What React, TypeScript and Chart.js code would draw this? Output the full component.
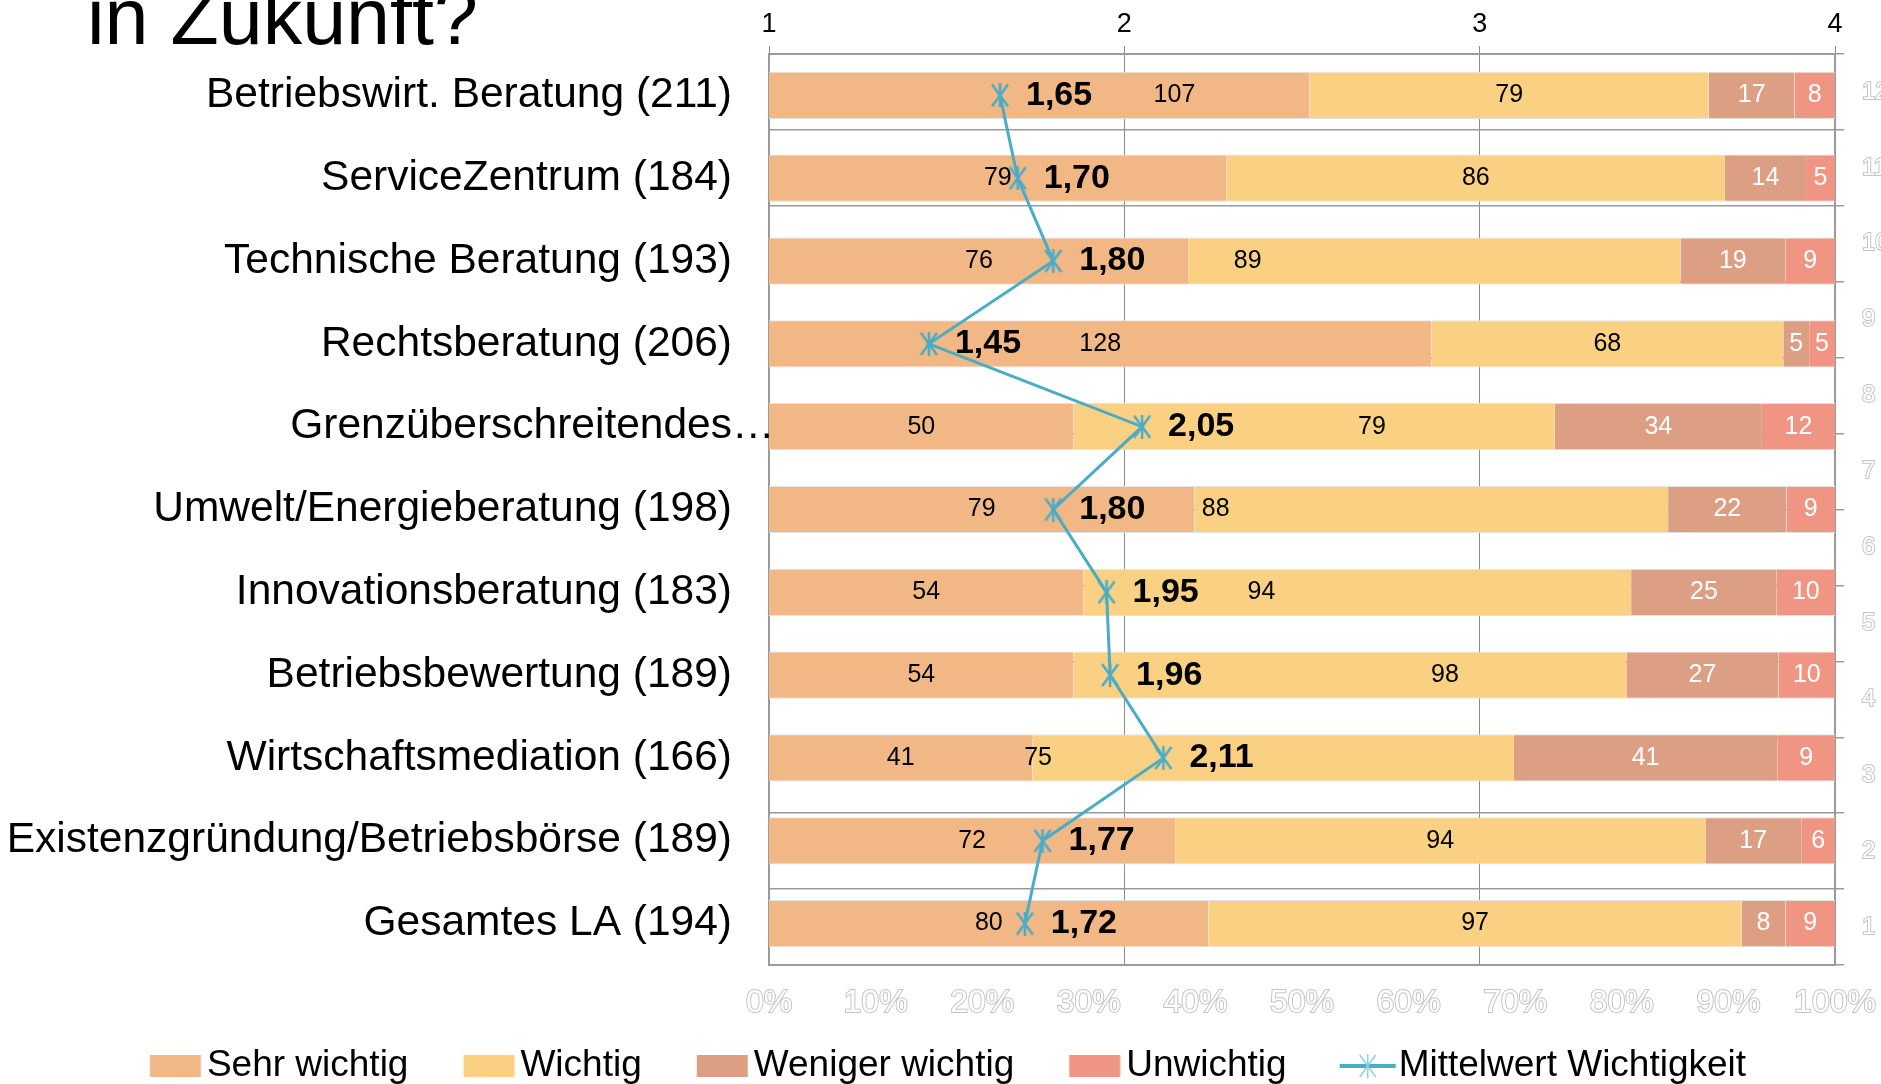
import React, { useEffect, useRef } from 'react';
import { Chart, registerables } from 'chart.js';

Chart.register(...registerables);

const FONT = "'Liberation Sans', Arial, Helvetica, sans-serif";

// ---- data ----
const categories = [
  'Betriebswirt. Beratung (211)',
  'ServiceZentrum (184)',
  'Technische Beratung (193)',
  'Rechtsberatung (206)',
  'Grenzüberschreitendes…',
  'Umwelt/Energieberatung (198)',
  'Innovationsberatung (183)',
  'Betriebsbewertung (189)',
  'Wirtschaftsmediation (166)',
  'Existenzgründung/Betriebsbörse (189)',
  'Gesamtes LA (194)',
];
const sehrWichtig = [107, 79, 76, 128, 50, 79, 54, 54, 41, 72, 80];
const wichtig = [79, 86, 89, 68, 79, 88, 94, 98, 75, 94, 97];
const wenigerWichtig = [17, 14, 19, 5, 34, 22, 25, 27, 41, 17, 8];
const unwichtig = [8, 5, 9, 5, 12, 9, 10, 10, 9, 6, 9];
const mittelwert = [1.65, 1.7, 1.8, 1.45, 2.05, 1.8, 1.95, 1.96, 2.11, 1.77, 1.72];
const seriesNames = ['Sehr wichtig', 'Wichtig', 'Weniger wichtig', 'Unwichtig'];
const lineName = 'Mittelwert Wichtigkeit';
const titleText = 'in Zukunft?';
const ELLIPSIS = '…';

// where inside its segment each count label sits (0 = start, 1 = end)
const anchorSehr = [0.75, 0.5, 0.5, 0.5, 0.5, 0.5, 0.5, 0.5, 0.5, 0.5, 0.5];
const anchorWichtig = [0.5, 0.5, 0.12, 0.5, 0.62, 0.045, 0.325, 0.672, 0.012, 0.5, 0.5];

const colors = ['#F1B785', '#FAD182', '#DC9F83', '#F09583'];
const lineColor = '#4BACC6';

const counts = [sehrWichtig, wichtig, wenigerWichtig, unwichtig];
const totals = categories.map((_, i) => counts.reduce((s, arr) => s + arr[i], 0));
const toPct = (arr: number[]) => arr.map((v, i) => (v / totals[i]) * 100);

const CAT_FONT_SIZE = 42.5;
const CAT_PAD = 37;

function makeMarker(w: number, h: number, color: string, lw: number) {
  const c = document.createElement('canvas');
  c.width = w;
  c.height = h;
  const g = c.getContext('2d')!;
  g.strokeStyle = color;
  g.lineWidth = lw;
  g.beginPath();
  g.moveTo(2, 1);
  g.lineTo(w - 2, h - 1);
  g.moveTo(w - 2, 1);
  g.lineTo(2, h - 1);
  g.moveTo(w / 2, 0);
  g.lineTo(w / 2, h);
  g.stroke();
  return c;
}

// legend swatches: a transparent lead-in on the left makes the gap between items
const LEG_W = 125;
const LEG_H = 24;
function makeLegendBox(color: string) {
  const c = document.createElement('canvas');
  c.width = LEG_W;
  c.height = LEG_H;
  const g = c.getContext('2d')!;
  g.fillStyle = color;
  g.fillRect(70.75, 1, 51, 22);
  return c;
}

function makeLegendLine(color: string) {
  const c = document.createElement('canvas');
  c.width = LEG_W;
  c.height = LEG_H;
  const g = c.getContext('2d')!;
  const x0 = 68.75;
  const x1 = 124.75;
  g.fillStyle = color;
  g.fillRect(x0, LEG_H / 2 - 2, x1 - x0, 4);
  g.strokeStyle = '#8ccfe0';
  g.lineWidth = 1.5;
  const cx = (x0 + x1) / 2;
  g.beginPath();
  g.moveTo(cx - 8, 1);
  g.lineTo(cx + 8, LEG_H - 1);
  g.moveTo(cx + 8, 1);
  g.lineTo(cx - 8, LEG_H - 1);
  g.moveTo(cx, 0);
  g.lineTo(cx, LEG_H);
  g.stroke();
  return c;
}

const zeroPad = (s: any) => {
  s.paddingLeft = 0;
  s.paddingRight = 0;
  s.paddingTop = 0;
  s.paddingBottom = 0;
};

const valueLabels = {
  id: 'valueLabels',
  afterDraw(chart: any) {
    const ctx = chart.ctx;
    ctx.save();
    // overflowing ellipsis of truncated category labels (runs past the label column like in Excel)
    const yScale = chart.scales.y;
    ctx.font = `${CAT_FONT_SIZE}px ${FONT}`;
    ctx.textAlign = 'left';
    ctx.textBaseline = 'middle';
    ctx.fillStyle = '#000';
    categories.forEach((c, i) => {
      if (c.endsWith(ELLIPSIS)) {
        ctx.fillText(ELLIPSIS, chart.chartArea.left - CAT_PAD, yScale.getPixelForValue(i));
      }
    });

    ctx.textAlign = 'center';
    ctx.font = `25px ${FONT}`;
    counts.forEach((arr, k) => {
      const meta = chart.getDatasetMeta(k);
      meta.data.forEach((el: any, i: number) => {
        const { x, base, y } = el.getProps(['x', 'base', 'y'], true);
        const frac = k === 0 ? anchorSehr[i] : k === 1 ? anchorWichtig[i] : 0.5;
        ctx.fillStyle = k < 2 ? '#000' : '#fff';
        ctx.fillText(String(arr[i]), base + (x - base) * frac, y);
      });
    });
    const lm = chart.getDatasetMeta(counts.length);
    ctx.font = `bold 34px ${FONT}`;
    ctx.textAlign = 'left';
    ctx.fillStyle = '#000';
    lm.data.forEach((pt: any, i: number) => {
      const { x, y } = pt.getProps(['x', 'y'], true);
      ctx.fillText(mittelwert[i].toFixed(2).replace('.', ','), x + 26, y);
    });
    ctx.restore();
  },
};

export default function App() {
  const ref = useRef<HTMLCanvasElement>(null);

  useEffect(() => {
    if (!ref.current) return;
    const marker = makeMarker(20, 24, lineColor, 2.5);
    const boxes = colors.map((c) => makeLegendBox(c));
    const legendLine = makeLegendLine(lineColor);

    const barSets = counts.map((arr, k) => ({
      type: 'bar' as const,
      label: seriesNames[k],
      data: toPct(arr),
      backgroundColor: colors[k],
      borderColor: '#e2e2e2',
      borderWidth: { top: 1, bottom: 1, left: 0, right: 0 },
      borderSkipped: false,
      xAxisID: 'x',
      yAxisID: 'y',
      barPercentage: 0.57,
      categoryPercentage: 1,
      order: 1,
    }));

    const lineSet = {
      type: 'line' as const,
      label: lineName,
      data: mittelwert,
      indexAxis: 'y' as const,
      xAxisID: 'x2',
      yAxisID: 'y',
      borderColor: lineColor,
      backgroundColor: lineColor,
      borderWidth: 3,
      pointStyle: marker,
      pointRadius: 11,
      fill: false,
      tension: 0,
      order: 0,
    };

    const chart = new Chart(ref.current, {
      type: 'bar',
      data: { labels: categories, datasets: [...barSets, lineSet] as any },
      options: {
        indexAxis: 'y',
        responsive: false,
        animation: false,
        devicePixelRatio: 1,
        events: [],
        layout: { padding: { left: -40, right: 0, top: 0, bottom: -10.5 } },
        scales: {
          x: {
            type: 'linear',
            axis: 'x',
            position: 'bottom',
            stacked: true,
            min: 0,
            max: 100,
            grid: { display: false, drawTicks: false },
            border: { display: true, color: '#9a9a9a', width: 2 },
            ticks: {
              stepSize: 10,
              autoSkip: false,
              maxRotation: 0,
              padding: 19,
              color: '#ffffff',
              textStrokeColor: '#c4c4c4',
              textStrokeWidth: 2,
              font: { family: FONT, size: 32 },
              callback: (v: any) => `${v}%`,
            },
            afterFit: (s: any) => {
              s.height = 82.5;
              zeroPad(s);
            },
          },
          x2: {
            type: 'linear',
            axis: 'x',
            position: 'top',
            min: 1,
            max: 4,
            z: 1,
            grid: { display: true, color: '#8c8c8c', lineWidth: 1, drawTicks: true, tickLength: 8, drawOnChartArea: true },
            border: { display: true, color: '#9a9a9a', width: 2 },
            ticks: {
              stepSize: 1,
              autoSkip: false,
              maxRotation: 0,
              padding: 5,
              color: '#000',
              font: { family: FONT, size: 27 },
            },
            afterFit: (s: any) => {
              s.height = 54;
              zeroPad(s);
            },
          },
          y: {
            type: 'category',
            axis: 'y',
            position: 'left',
            stacked: true,
            offset: true,
            grid: { display: false, drawTicks: false },
            border: { display: true, color: '#9a9a9a', width: 2 },
            ticks: {
              padding: CAT_PAD,
              color: '#000',
              autoSkip: false,
              font: { family: FONT, size: CAT_FONT_SIZE },
              callback: (_v: any, i: number) => {
                const c = categories[i];
                return c.endsWith(ELLIPSIS) ? c.slice(0, -ELLIPSIS.length) : c;
              },
            },
            afterFit: (s: any) => {
              s.width = 809;
              zeroPad(s);
            },
          },
          y2: {
            type: 'linear',
            axis: 'y',
            position: 'right',
            min: 1,
            max: 12,
            grid: { display: true, color: '#9a9a9a', lineWidth: 1.5, drawTicks: true, tickLength: 9 },
            border: { display: true, color: '#9a9a9a', width: 2 },
            ticks: {
              stepSize: 1,
              autoSkip: false,
              padding: 18,
              color: '#ffffff',
              textStrokeColor: '#c4c4c4',
              textStrokeWidth: 2,
              font: { family: FONT, size: 24 },
            },
            afterFit: (s: any) => {
              s.width = 46;
              zeroPad(s);
            },
          },
        } as any,
        plugins: {
          tooltip: { enabled: false },
          legend: {
            display: true,
            position: 'bottom',
            align: 'center',
            labels: {
              usePointStyle: true,
              pointStyleWidth: 93.5,
              boxHeight: 22,
              padding: 0,
              color: '#000',
              font: { family: FONT, size: 37 },
              generateLabels: () => [
                ...seriesNames.map((name, k) => ({
                  text: name,
                  fillStyle: colors[k],
                  strokeStyle: colors[k],
                  lineWidth: 0,
                  hidden: false,
                  datasetIndex: k,
                  pointStyle: boxes[k],
                  fontColor: '#000',
                })),
                {
                  text: lineName,
                  fillStyle: lineColor,
                  strokeStyle: lineColor,
                  lineWidth: 0,
                  hidden: false,
                  datasetIndex: counts.length,
                  pointStyle: legendLine,
                  fontColor: '#000',
                },
              ],
            },
          },
        },
      } as any,
      plugins: [valueLabels],
    });

    return () => chart.destroy();
  }, []);

  return (
    <div
      style={{
        position: 'absolute',
        left: 0,
        top: 0,
        width: 1881,
        height: 1084,
        overflow: 'hidden',
        background: '#fff',
      }}
    >
      <div
        style={{
          position: 'absolute',
          left: 87,
          top: -23,
          fontFamily: FONT,
          fontSize: 79,
          lineHeight: '79px',
          whiteSpace: 'nowrap',
          color: '#000',
        }}
      >
        {titleText}
      </div>
      <canvas
        ref={ref}
        width={1881}
        height={1084}
        style={{ position: 'absolute', left: 0, top: 0, width: 1881, height: 1084 }}
      />
    </div>
  );
}
